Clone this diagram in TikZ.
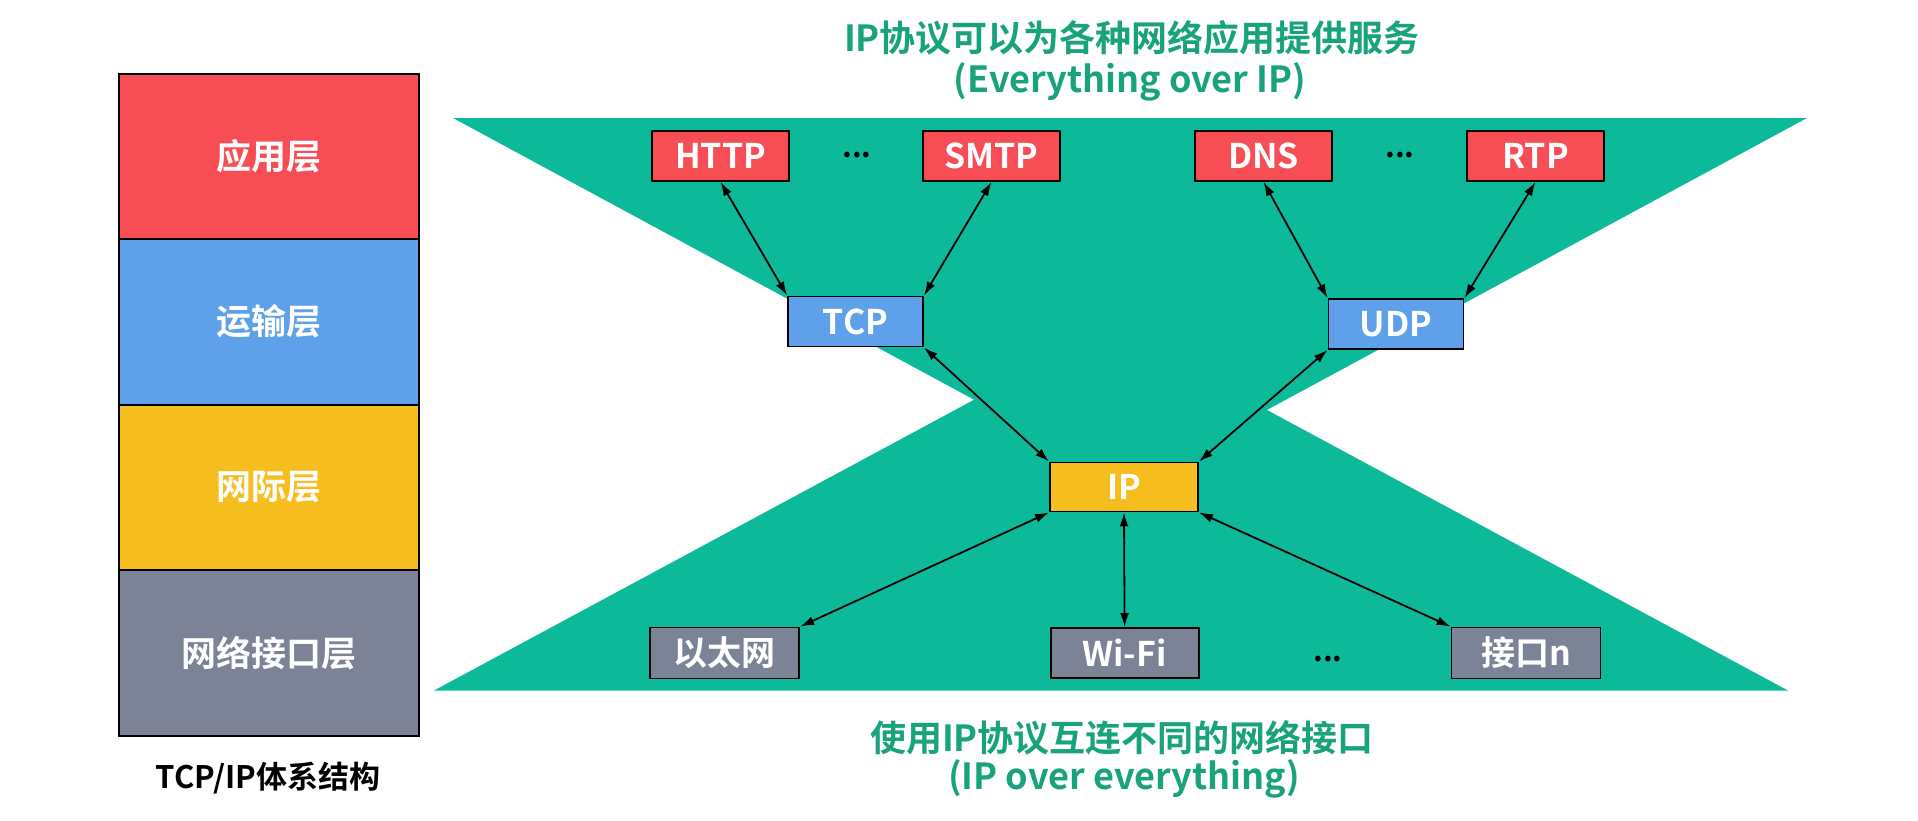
\documentclass[tikz,border=0pt]{standalone}
\usepackage{fontspec}
\setmainfont{Noto Sans CJK SC}[BoldFont={Noto Sans CJK SC Bold}]
\usetikzlibrary{arrows.meta}
\definecolor{cred}{RGB}{247,78,85}
\definecolor{cblue}{RGB}{95,160,234}
\definecolor{cyellow}{RGB}{246,189,31}
\definecolor{cgray}{RGB}{124,131,150}
\definecolor{cgreen}{RGB}{12,186,154}
\definecolor{ctext}{RGB}{24,163,124}
\begin{document}
\begin{tikzpicture}[x=1pt,y=-1pt,
  box/.style={draw=black, line width=1.8pt, minimum width=137pt, minimum height=50pt, inner sep=0pt, text=white, font=\bfseries\fontsize{34}{34}\selectfont},
  layer/.style={draw=black, line width=2pt, minimum width=300pt, minimum height=165.5pt, inner sep=0pt, text=white, font=\bfseries\fontsize{35}{35}\selectfont},
  link/.style={line width=1.8pt, {Latex[length=14pt,width=9pt]}-{Latex[length=14pt,width=9pt]}},
  dots/.style={inner sep=0pt, font=\bfseries\fontsize{30}{30}\selectfont},
  title/.style={inner sep=0pt, text=ctext, font=\bfseries\fontsize{36}{36}\selectfont}]
\useasboundingbox (0,0) rectangle (1918,820);
\fill[white] (0,0) rectangle (1918,820);
% left stack
\node[layer, fill=cred] (app) at (269,156.25) {应用层};
\node[layer, fill=cblue] (trans) at (269,321.75) {运输层};
\node[layer, fill=cyellow] (net) at (269,487.25) {网际层};
\node[layer, fill=cgray] (link) at (269,652.75) {网络接口层};
\node[inner sep=0pt, font=\bfseries\fontsize{31}{31}\selectfont] (cap) at (268,778) {TCP/IP体系结构};
% hourglass
\fill[cgreen] (453,118) -- (1807,118) -- (1130,484) -- cycle;
\fill[cgreen] (434,690.5) -- (1788,690.5) -- (1111,326) -- cycle;
% titles
\node[title] (t1) at (1132,38) {IP协议可以为各种网络应用提供服务};
\node[title] (t2) at (1130,82) {(Everything over IP)};
\node[title] (b1) at (1122,738) {使用IP协议互连不同的网络接口};
\node[title] (b2) at (1124,779) {(IP over everything)};
% boxes
\node[box, fill=cred] (http) at (720.5,156) {HTTP};
\node[box, fill=cred] (smtp) at (991.5,156) {SMTP};
\node[box, fill=cred] (dns) at (1263.5,156) {DNS};
\node[box, fill=cred] (rtp) at (1535.5,156) {RTP};
\node[dots] (d1) at (857,155) {...};
\node[dots] (d2) at (1400,155) {...};
\node[box, fill=cblue, minimum width=135pt] (tcp) at (855.5,321.5) {TCP};
\node[box, fill=cblue, minimum width=135pt] (udp) at (1396,324) {UDP};
\node[box, fill=cyellow, minimum width=148pt, minimum height=49pt] (ip) at (1124,487) {IP};
\node[box, fill=cgray, minimum width=149pt, minimum height=51pt] (eth) at (724.7,653) {以太网};
\node[box, fill=cgray, minimum width=148pt] (wifi) at (1124.6,653) {Wi-Fi};
\node[box, fill=cgray, minimum width=149pt, minimum height=51pt] (ifn) at (1526,653) {接口n};
\node[dots] (d3) at (1328,659) {...};
% links
\draw[link] (http.south) -- (tcp.north west);
\draw[link] (smtp.south) -- (tcp.north east);
\draw[link] (dns.south) -- (udp.north west);
\draw[link] (rtp.south) -- (udp.north east);
\draw[link] (tcp.south east) -- (ip.north west);
\draw[link] (udp.south west) -- (ip.north east);
\draw[link] (ip.south west) -- (eth.north east);
\draw[link] (ip.south) -- (wifi.north);
\draw[link] (ip.south east) -- (ifn.north west);
\end{tikzpicture}
\end{document}
